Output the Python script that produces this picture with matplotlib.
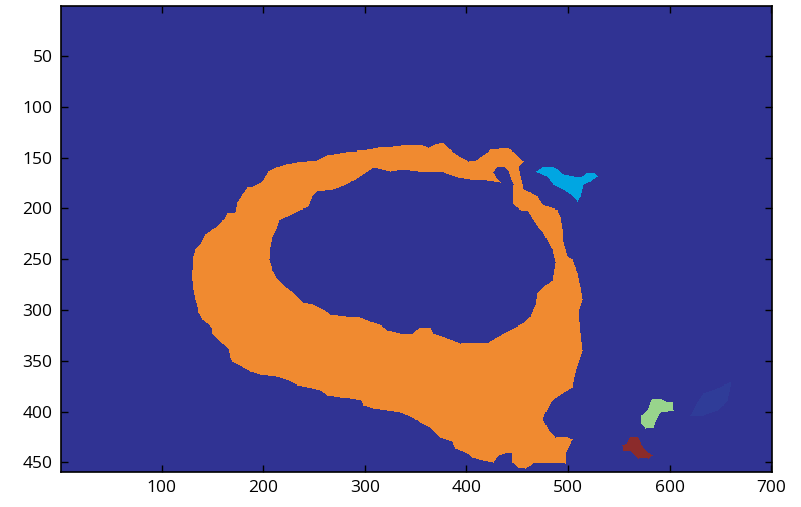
import numpy as np
import matplotlib
matplotlib.use("Agg")
import matplotlib.pyplot as plt
from matplotlib.path import Path
from matplotlib.colors import ListedColormap

# image size (rows, cols) of the label map
n_rows, n_cols = 459, 700

# region outlines in image coordinates (x = column, y = row)
ring_outer = [
    (130, 271), (130, 261), (131, 248), (133, 241), (138, 236), (143, 226), (150, 221),
    (155, 218), (160, 212), (164, 205), (172, 204), (174, 195), (179, 187), (184, 180),
    (190, 179), (199, 174), (205, 164), (213, 160), (223, 157), (233, 155), (253, 153),
    (263, 148), (282, 145), (302, 143), (318, 140), (328, 140), (344, 138), (354, 138),
    (362, 141), (369, 138), (376, 136), (384, 143), (394, 150), (402, 154), (410, 153),
    (416, 148), (423, 143), (440, 141), (446, 145), (451, 150), (456, 154), (451, 159),
    (453, 169), (455, 177), (456, 182), (463, 185), (470, 189), (475, 197), (489, 202),
    (492, 209), (494, 221), (495, 234), (499, 248), (504, 251), (509, 264), (512, 278),
    (514, 290), (510, 303), (512, 323), (514, 340), (510, 352), (507, 362), (504, 376),
    (494, 382), (484, 389), (482, 392), (477, 402), (475, 408), (480, 418), (487, 426),
    (497, 425), (504, 428), (500, 435), (497, 441), (497, 451), (490, 450), (479, 450),
    (466, 450), (463, 453), (458, 456), (451, 455), (445, 450), (445, 440), (440, 440),
    (431, 443), (426, 450), (416, 448), (406, 445), (401, 441), (389, 436), (386, 430),
    (374, 426), (364, 416), (354, 411), (347, 406), (335, 401), (322, 399), (308, 397),
    (298, 394), (296, 389), (286, 387), (276, 386), (263, 384), (256, 379), (243, 376),
    (233, 374), (223, 369), (213, 366), (197, 364), (187, 361), (180, 357), (169, 351),
    (167, 347), (165, 338), (157, 330), (150, 323), (149, 317), (140, 310), (136, 303),
    (135, 297), (133, 290), (131, 280),
]
ring_hole = [
    (308, 160), (325, 164), (338, 162), (351, 164), (364, 164), (377, 165), (391, 170),
    (403, 172), (413, 172), (426, 174), (433, 175), (429, 170), (426, 165), (430, 159),
    (436, 159), (441, 164), (443, 170), (446, 177), (445, 185), (446, 197), (453, 202),
    (460, 202), (463, 207), (466, 212), (470, 218), (475, 224), (480, 234), (484, 241),
    (487, 254), (484, 271), (475, 278), (470, 283), (468, 295), (463, 307), (456, 313),
    (446, 318), (433, 325), (421, 332), (407, 332), (394, 333), (381, 328), (367, 323),
    (364, 317), (354, 317), (347, 323), (335, 323), (322, 320), (315, 315), (305, 312),
    (295, 308), (282, 307), (266, 305), (259, 300), (249, 295), (239, 293), (233, 287),
    (226, 281), (219, 274), (213, 268), (209, 261), (206, 251), (207, 239), (209, 229),
    (213, 221), (216, 212), (226, 207), (236, 202), (244, 199), (248, 189), (253, 184),
    (269, 182), (282, 177), (295, 169),
]
blob_cyan = [
    (469, 164), (475, 160), (484, 159), (489, 162), (495, 167), (505, 169), (514, 169),
    (519, 165), (525, 165), (529, 169), (522, 174), (515, 177), (512, 189), (509, 194),
    (505, 189), (495, 182), (485, 177), (479, 169), (470, 165),
]
blob_green = [
    (583, 387), (591, 387), (596, 390), (603, 391), (604, 399), (598, 400), (591, 401),
    (587, 408), (584, 416), (576, 417), (572, 412), (572, 404), (578, 399), (581, 391),
]
blob_red = [
    (561, 425), (568, 425), (571, 431), (576, 438), (583, 443), (579, 446), (573, 445),
    (569, 446), (564, 441), (561, 438), (554, 438), (553, 433), (558, 431),
]
blob_faint = [
    (620, 404), (627, 391), (633, 382), (647, 377), (661, 371), (657, 389), (653, 394),
    (647, 399), (633, 404),
]

label_colors = ["#303393", "#F08A30", "#00A6E2", "#98D48C", "#8B2B2B", "#2F3C98"]

# build the label image
cols, rows = np.meshgrid(np.arange(1, n_cols + 1), np.arange(1, n_rows + 1))
pts = np.column_stack([cols.ravel(), rows.ravel()])

def inside(poly):
    return Path(poly).contains_points(pts).reshape(n_rows, n_cols)

labels = np.zeros((n_rows, n_cols), dtype=int)
labels[inside(ring_outer) & ~inside(ring_hole)] = 1
labels[inside(blob_cyan)] = 2
labels[inside(blob_green)] = 3
labels[inside(blob_red)] = 4
labels[inside(blob_faint)] = 5

plt.rcParams['font.family'] = ['Open Sans', 'DejaVu Sans']

fig = plt.figure(figsize=(8.01, 5.07), dpi=100)
ax = fig.add_axes([0.0758, 0.069, 0.8876, 0.920])
ax.imshow(labels, cmap=ListedColormap(label_colors), vmin=-0.5, vmax=5.5,
          interpolation='nearest', aspect='auto',
          extent=(0.5, n_cols + 0.5, n_rows + 0.5, 0.5))

ax.set_xticks([100, 200, 300, 400, 500, 600, 700])
ax.set_yticks([50, 100, 150, 200, 250, 300, 350, 400, 450])
ax.tick_params(direction='in', length=5, width=1, top=True, right=True,
               labelsize=12.5, pad=6)
for s in ax.spines.values():
    s.set_linewidth(1.2)

fig.savefig("out.png", dpi=100)
